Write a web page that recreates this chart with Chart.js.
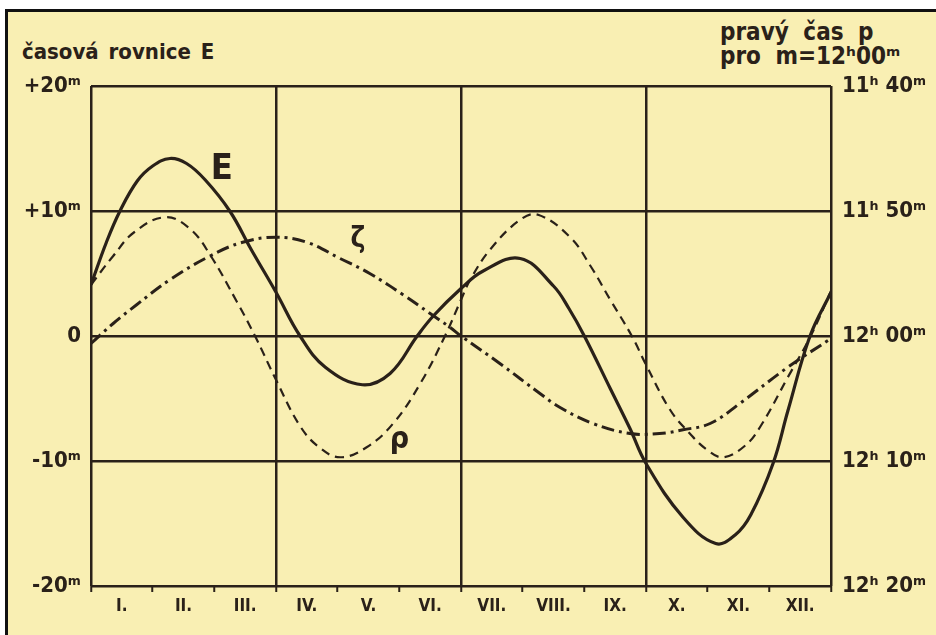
<!DOCTYPE html>
<html>
<head>
<meta charset="utf-8">
<script src="https://cdn.jsdelivr.net/npm/chart.js@4.4.1/dist/chart.umd.min.js"></script>
<style>
  html, body { margin: 0; padding: 0; background: #fff; }
  #wrap { position: relative; width: 936px; height: 635px; overflow: hidden; }
  #paper {
    position: absolute; left: 5px; top: 9px; right: -4px; bottom: -4px;
    background: #f9efb3;
    border-left: 3px solid #111; border-top: 3px solid #111;
  }
  canvas { position: absolute; left: 0; top: 0; }
  .hdr {
    position: absolute; color: #2a2119; font-weight: bold;
    font-family: "DejaVu Sans Condensed", "Liberation Sans Narrow", sans-serif;
    white-space: nowrap;
  }
  #tl { left: 22px; top: 39px; font-size: 22px; word-spacing: 3px; }
  #tr { left: 720px; top: 20px; font-size: 24px; line-height: 24px; word-spacing: 7px; }
</style>
</head>
<body>
<div id="wrap">
  <div id="paper"></div>
  <div class="hdr" id="tl">časová rovnice E</div>
  <div class="hdr" id="tr">pravý čas p<br>pro m=12ʰ00ᵐ</div>
  <canvas id="c" width="936" height="635"></canvas>
</div>
<script>
// měsíce (osa x) a popisky os
const monthLabels = ["I.", "II.", "III.", "IV.", "V.", "VI.", "VII.", "VIII.", "IX.", "X.", "XI.", "XII."];
const yTickValues = [20, 10, 0, -10, -20];
const leftTickLabels = ["+20ᵐ", "+10ᵐ", "0", "-10ᵐ", "-20ᵐ"];
const rightTickLabels = ["11ʰ 40ᵐ", "11ʰ 50ᵐ", "12ʰ 00ᵐ", "12ʰ 10ᵐ", "12ʰ 20ᵐ"];

// časová rovnice E (plná čára), x = měsíc od 1. ledna
const eMonths = [0, 0.25, 0.47, 0.75, 1.0, 1.28, 1.55, 1.85, 2.25, 2.6, 3.0, 3.39, 3.8, 4.4, 4.85, 5.29, 5.55, 6.0, 6.36, 6.96, 7.5, 7.75, 8.0, 8.42, 8.74, 9.0, 9.6, 10.13, 10.45, 10.7, 11.06, 11.3, 11.66, 12.0];
const eValues = [4.1, 7.5, 10.0, 12.4, 13.6, 14.2, 13.8, 12.5, 10.0, 6.9, 3.5, 0, -2.5, -3.9, -3.0, 0, 1.6, 3.8, 5.2, 6.2, 4.0, 2.2, 0, -4.2, -7.4, -10.2, -14.5, -16.6, -15.9, -14.3, -10.2, -6.0, 0, 3.5];

// složka rho (čárkovaně)
const rhoMonths = [0, 0.36, 0.7, 1.2, 1.6, 1.93, 2.37, 2.66, 3.0, 3.39, 3.7, 4.04, 4.47, 4.9, 5.34, 5.74, 6.0, 6.15, 6.47, 6.96, 7.25, 7.77, 8.1, 8.42, 8.77, 9.0, 9.39, 9.71, 9.99, 10.25, 10.6, 10.86, 11.3, 11.67, 12.0];
const rhoValues = [4.1, 6.4, 8.3, 9.5, 8.6, 6.5, 2.7, 0, -3.5, -7.2, -8.9, -9.7, -8.9, -7.0, -3.8, 0, 2.9, 4.5, 6.9, 9.3, 9.7, 7.9, 5.6, 2.9, 0, -2.3, -5.9, -7.8, -9.1, -9.7, -8.8, -7.2, -3.3, 0, 3.6];

// složka zeta (čerchovaně)
const zetaMonths = [0, 0.36, 0.74, 1.28, 1.93, 2.46, 3.0, 3.5, 4.04, 4.52, 5.06, 5.5, 5.82, 6.0, 6.63, 7.28, 7.6, 8.14, 8.74, 9.22, 9.6, 10.04, 10.52, 11.3, 12.0];
const zetaValues = [-0.6, 1.0, 2.5, 4.5, 6.4, 7.5, 7.9, 7.5, 6.2, 5.0, 3.3, 1.8, 0.7, 0, -2.2, -4.6, -5.7, -7.0, -7.8, -7.8, -7.5, -7.0, -5.4, -2.5, -0.2];

const ink = "#2a2119";
const fontFam = '"DejaVu Sans Condensed", "Liberation Sans Narrow", sans-serif';

function pts(xs, ys) {
  return xs.map((x, i) => ({ x: x, y: ys[i] }));
}

// popisky křivek E, zeta, rho
const curveLabels = {
  id: "curveLabels",
  afterDatasetsDraw(chart) {
    const { ctx, scales } = chart;
    const items = [
      { t: "E", m: 2.12, v: 13.3, size: 36 },
      { t: "ζ", m: 4.33, v: 7.7, size: 28 },
      { t: "ρ", m: 5.0, v: -8.3, size: 30 }
    ];
    ctx.save();
    ctx.fillStyle = ink;
    ctx.textAlign = "center";
    ctx.textBaseline = "middle";
    items.forEach(it => {
      ctx.font = "bold " + it.size + "px " + fontFam;
      ctx.fillText(it.t, scales.x.getPixelForValue(it.m), scales.y.getPixelForValue(it.v));
    });
    ctx.restore();
  }
};

new Chart(document.getElementById("c"), {
  type: "line",
  data: {
    datasets: [
      {
        label: "E",
        data: pts(eMonths, eValues),
        borderColor: ink,
        borderWidth: 3.2
      },
      {
        label: "ρ",
        data: pts(rhoMonths, rhoValues),
        borderColor: ink,
        borderWidth: 2.2,
        borderDash: [9, 6]
      },
      {
        label: "ζ",
        data: pts(zetaMonths, zetaValues),
        borderColor: ink,
        borderWidth: 3,
        borderDash: [13, 5, 3, 5]
      }
    ]
  },
  options: {
    responsive: false,
    animation: false,
    layout: { padding: { top: 86, left: 0, right: 0, bottom: 0 } },
    elements: {
      point: { radius: 0 },
      line: { tension: 0.4, fill: false }
    },
    plugins: {
      legend: { display: false },
      tooltip: { enabled: false }
    },
    scales: {
      x: {
        type: "linear",
        min: 0,
        max: 12,
        afterFit: s => { s.height = 49; },
        afterBuildTicks: s => {
          s.ticks = [];
          for (let i = 0; i <= 24; i++) s.ticks.push({ value: i / 2 });
        },
        border: { display: false },
        grid: {
          lineWidth: 2.5,
          tickLength: 6,
          tickWidth: 2,
          color: c => (c.tick && c.tick.value % 3 === 0) ? ink : "rgba(0,0,0,0)",
          tickColor: c => (c.tick && Number.isInteger(c.tick.value)) ? ink : "rgba(0,0,0,0)"
        },
        ticks: {
          autoSkip: false,
          maxRotation: 0,
          padding: 4,
          color: ink,
          font: { family: fontFam, size: 17, weight: "bold" },
          callback: v => (v % 1 === 0.5) ? monthLabels[Math.floor(v)] : ""
        }
      },
      y: {
        position: "left",
        min: -20,
        max: 20,
        afterFit: s => { s.width = 91; },
        border: { display: false },
        grid: { lineWidth: 2.5, color: ink, drawTicks: false },
        ticks: {
          stepSize: 10,
          padding: 10,
          color: ink,
          font: { family: fontFam, size: 22, weight: "bold" },
          callback: v => leftTickLabels[yTickValues.indexOf(v)]
        }
      },
      y2: {
        position: "right",
        min: -20,
        max: 20,
        afterFit: s => { s.width = 105; },
        border: { display: false },
        grid: { display: false, drawTicks: false },
        ticks: {
          stepSize: 10,
          padding: 11,
          color: ink,
          font: { family: fontFam, size: 22, weight: "bold" },
          callback: v => rightTickLabels[yTickValues.indexOf(v)]
        }
      }
    }
  },
  plugins: [curveLabels]
});
</script>
</body>
</html>
